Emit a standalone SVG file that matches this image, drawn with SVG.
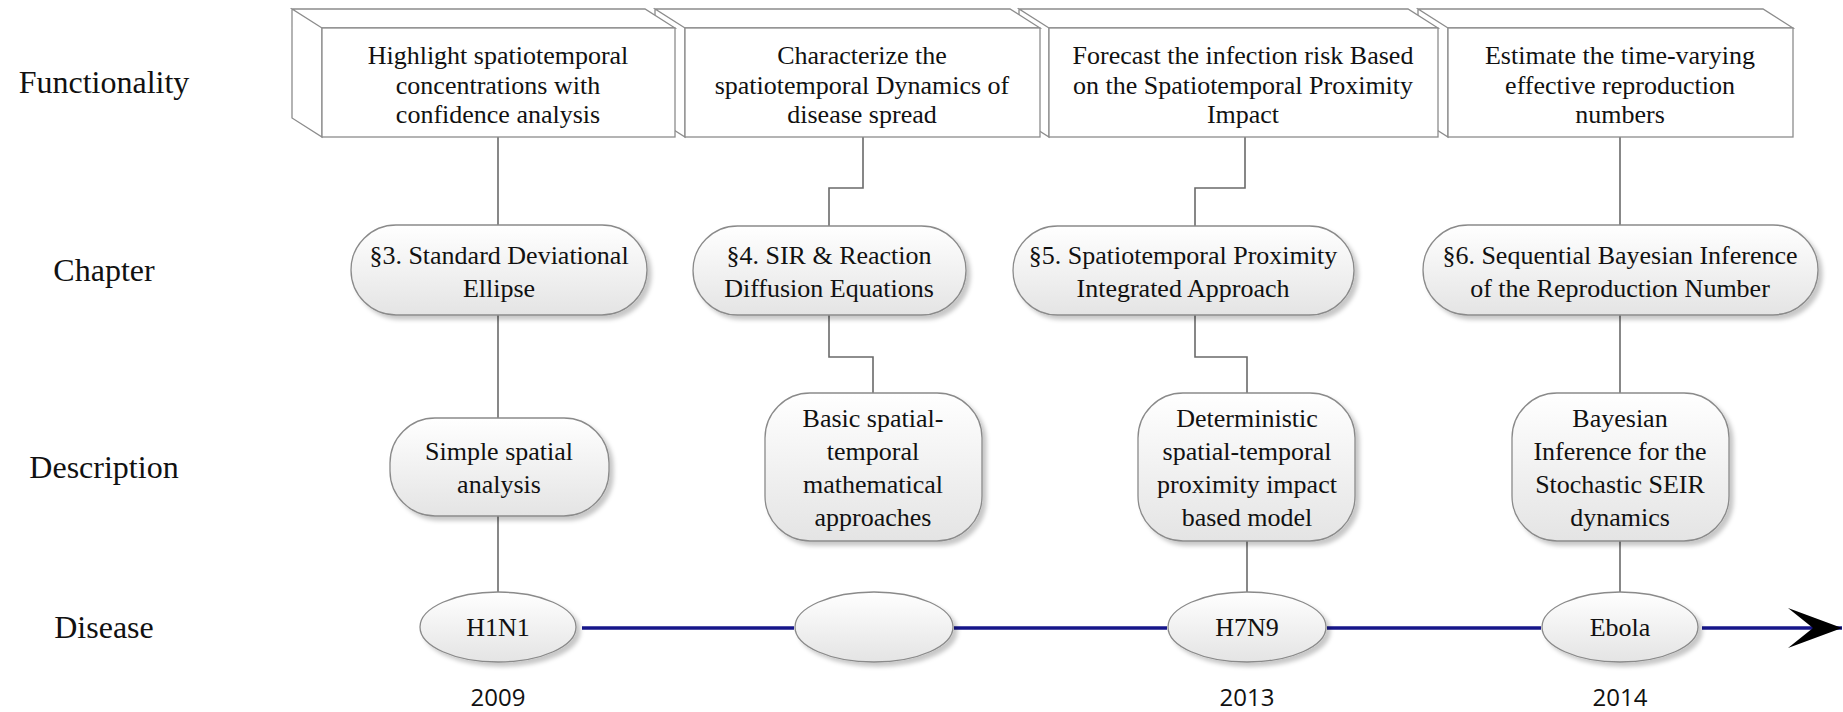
<svg xmlns="http://www.w3.org/2000/svg" width="1843" height="712" viewBox="0 0 1843 712">
<defs>
  <linearGradient id="g" x1="0" y1="0" x2="0" y2="1">
    <stop offset="0" stop-color="#ffffff"/>
    <stop offset="1" stop-color="#e4e4e4"/>
  </linearGradient>
  <filter id="sh" x="-10%" y="-10%" width="125%" height="130%">
    <feDropShadow dx="4" dy="4" stdDeviation="2" flood-color="#000" flood-opacity="0.22"/>
  </filter>
  <marker id="arr" markerUnits="userSpaceOnUse" markerWidth="56" markerHeight="42" refX="54" refY="21" orient="auto">
    <path d="M0,1 L54,21 L0,41 L25,21 Z" fill="#000"/>
  </marker>
</defs>
<style>
  .lbl{font-family:"Liberation Serif",serif;font-size:32px;fill:#111;text-anchor:middle}
  .t{font-family:"Liberation Serif",serif;font-size:26px;fill:#111;text-anchor:middle}
  .yr{font-family:"Open Sans","Liberation Sans",sans-serif;font-size:24px;fill:#111;text-anchor:middle}
  .box{fill:#fff;stroke:#8c8c8c;stroke-width:1.3}
  .sh{fill:url(#g);stroke:#8a8a8a;stroke-width:1.3;filter:url(#sh)}
  .c{fill:none;stroke:#6a6a6a;stroke-width:1.6}
  .tl{fill:none;stroke:#16168a;stroke-width:3.5}
</style>

<g id="row-labels">
  <text class="lbl" x="104" y="93">Functionality</text>
  <text class="lbl" x="104" y="281">Chapter</text>
  <text class="lbl" x="104" y="478">Description</text>
  <text class="lbl" x="104" y="638">Disease</text>
</g>

<g id="connectors">
  <path class="c" d="M498,137 V225"/>
  <path class="c" d="M498,315 V418"/>
  <path class="c" d="M498,516 V592"/>
  <path class="c" d="M863,137 V188 H829 V226"/>
  <path class="c" d="M829,315 V357 H873 V393"/>
  <path class="c" d="M1245,137 V188 H1195 V226"/>
  <path class="c" d="M1195,315 V357 H1247 V393"/>
  <path class="c" d="M1247,541 V592"/>
  <path class="c" d="M1620,137 V225"/>
  <path class="c" d="M1620,315 V393"/>
  <path class="c" d="M1620,541 V592"/>
  <path class="tl" d="M582,628 H794"/>
  <path class="tl" d="M954,628 H1167"/>
  <path class="tl" d="M1327,628 H1541"/>
  <path class="tl" d="M1702,628 H1842" marker-end="url(#arr)"/>
</g>

<g id="func4">
  <path class="box" d="M1448,28 L1418,9 L1763,9 L1793,28 Z M1448,28 L1418,9 L1418,118 L1448,137 Z"/>
  <rect class="box" x="1448" y="28" width="345" height="109"/>
  <text class="t" x="1620" y="64">Estimate the time-varying</text>
  <text class="t" x="1620" y="93.5">effective reproduction</text>
  <text class="t" x="1620" y="123">numbers</text>
</g>
<g id="func3">
  <path class="box" d="M1049,28 L1019,9 L1408,9 L1438,28 Z M1049,28 L1019,9 L1019,118 L1049,137 Z"/>
  <rect class="box" x="1049" y="28" width="389" height="109"/>
  <text class="t" x="1243" y="64">Forecast the infection risk Based</text>
  <text class="t" x="1243" y="93.5">on the Spatiotemporal Proximity</text>
  <text class="t" x="1243" y="123">Impact</text>
</g>
<g id="func2">
  <path class="box" d="M685,28 L655,9 L1010,9 L1040,28 Z M685,28 L655,9 L655,118 L685,137 Z"/>
  <rect class="box" x="685" y="28" width="355" height="109"/>
  <text class="t" x="862" y="64">Characterize the</text>
  <text class="t" x="862" y="93.5">spatiotemporal Dynamics of</text>
  <text class="t" x="862" y="123">disease spread</text>
</g>
<g id="func1">
  <path class="box" d="M322,28 L292,9 L645,9 L675,28 Z M322,28 L292,9 L292,118 L322,137 Z"/>
  <rect class="box" x="322" y="28" width="353" height="109"/>
  <text class="t" x="498" y="64">Highlight spatiotemporal</text>
  <text class="t" x="498" y="93.5">concentrations with</text>
  <text class="t" x="498" y="123">confidence analysis</text>
</g>

<g id="chap3">
  <rect class="sh" x="351" y="225" width="296" height="90" rx="45"/>
  <text class="t" x="499" y="264">§3. Standard Deviational</text>
  <text class="t" x="499" y="297">Ellipse</text>
</g>
<g id="chap4">
  <rect class="sh" x="693" y="226" width="273" height="89" rx="44.5"/>
  <text class="t" x="829" y="264">§4. SIR &amp; Reaction</text>
  <text class="t" x="829" y="297">Diffusion Equations</text>
</g>
<g id="chap5">
  <rect class="sh" x="1013" y="226" width="341" height="89" rx="44.5"/>
  <text class="t" x="1183" y="264">§5. Spatiotemporal Proximity</text>
  <text class="t" x="1183" y="297">Integrated Approach</text>
</g>
<g id="chap6">
  <rect class="sh" x="1423" y="225" width="395" height="90" rx="45"/>
  <text class="t" x="1620" y="264">§6. Sequential Bayesian Inference</text>
  <text class="t" x="1620" y="297">of the Reproduction Number</text>
</g>

<g id="desc1">
  <rect class="sh" x="390" y="418" width="219" height="98" rx="45"/>
  <text class="t" x="499" y="460">Simple spatial</text>
  <text class="t" x="499" y="493">analysis</text>
</g>
<g id="desc2">
  <rect class="sh" x="765" y="393" width="217" height="148" rx="45"/>
  <text class="t" x="873" y="427">Basic spatial-</text>
  <text class="t" x="873" y="460">temporal</text>
  <text class="t" x="873" y="493">mathematical</text>
  <text class="t" x="873" y="526">approaches</text>
</g>
<g id="desc3">
  <rect class="sh" x="1138" y="393" width="217" height="148" rx="45"/>
  <text class="t" x="1247" y="427">Deterministic</text>
  <text class="t" x="1247" y="460">spatial-temporal</text>
  <text class="t" x="1247" y="493">proximity impact</text>
  <text class="t" x="1247" y="526">based model</text>
</g>
<g id="desc4">
  <rect class="sh" x="1512" y="393" width="217" height="148" rx="45"/>
  <text class="t" x="1620" y="427">Bayesian</text>
  <text class="t" x="1620" y="460">Inference for the</text>
  <text class="t" x="1620" y="493">Stochastic SEIR</text>
  <text class="t" x="1620" y="526">dynamics</text>
</g>

<g id="dis-h1n1">
  <ellipse class="sh" cx="498" cy="627" rx="78" ry="35"/>
  <text class="t" x="498" y="636">H1N1</text>
</g>
<g id="dis-empty">
  <ellipse class="sh" cx="874" cy="627" rx="79" ry="35"/>
</g>
<g id="dis-h7n9">
  <ellipse class="sh" cx="1247" cy="627" rx="79" ry="35"/>
  <text class="t" x="1247" y="636">H7N9</text>
</g>
<g id="dis-ebola">
  <ellipse class="sh" cx="1620" cy="627" rx="78" ry="35"/>
  <text class="t" x="1620" y="636">Ebola</text>
</g>

<g id="years">
  <text class="yr" x="498" y="706">2009</text>
  <text class="yr" x="1247" y="706">2013</text>
  <text class="yr" x="1620" y="706">2014</text>
</g>
</svg>
